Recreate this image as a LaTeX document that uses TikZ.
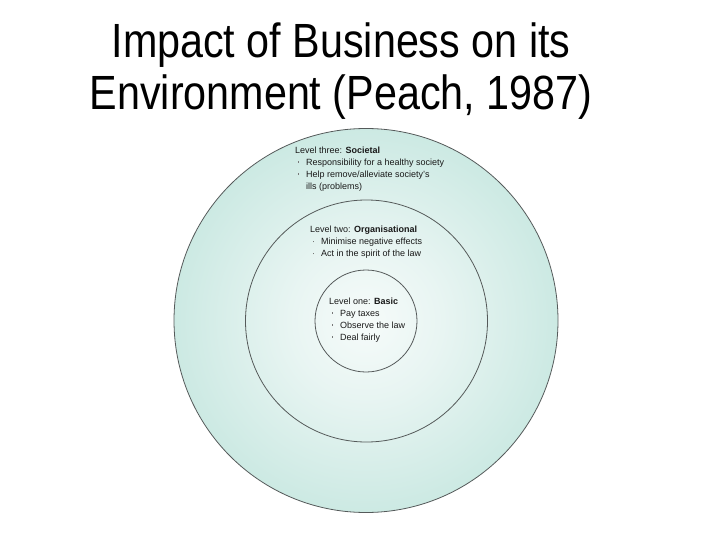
\documentclass[tikz,border=0pt]{standalone}
\usepackage{fontspec}
\setmainfont{Liberation Sans}
\usepackage{xcolor}
\usepackage{tikz}
\usetikzlibrary{positioning}
\definecolor{ringline}{RGB}{85,90,90}
\definecolor{dotgray}{RGB}{120,120,120}
\definecolor{inkdark}{RGB}{25,25,25}
\pgfdeclareradialshading{levels}{\pgfpoint{0bp}{0bp}}{%
  rgb(0bp)=(0.965,0.985,0.98);
  rgb(10bp)=(0.91,0.96,0.95);
  rgb(25bp)=(0.80,0.915,0.89);
  rgb(40bp)=(0.72,0.875,0.845);
  rgb(50bp)=(0.68,0.85,0.82)}
\newcommand{\itemdot}{\hspace*{2.5pt}\makebox[8.5pt][l]{\raisebox{2.4pt}{\color{dotgray}\rule{1.6pt}{1.6pt}}}}

\begin{document}
\begin{tikzpicture}[
  x=1pt, y=-1pt,
  ring/.style={circle, draw=ringline, line width=0.8pt, inner sep=0pt},
  level/.style={anchor=north west, inner sep=0pt, align=left, text=inkdark,
    font=\fontsize{9}{12}\selectfont},
  heading/.style={align=center, inner sep=0pt,
    font=\fontsize{48}{52}\selectfont, xscale=0.86}
]
\useasboundingbox (0,0) rectangle (720,540);

\node[heading] (title) at (341,71) {Impact of Business on its\\Environment (Peach, 1987)};

\node[ring, shading=levels, minimum size=384pt] (societal) at (366,320.5) {};
\node[ring, minimum size=242pt] (organisational) at (366.5,321) {};
\node[ring, minimum size=102pt] (basic) at (366,321) {};

\node[level] (three) at (295,146.5) {Level three: \textbf{Societal}\\
  \itemdot Responsibility for a healthy society\\
  \itemdot Help remove/alleviate society's\\
  \hspace*{11pt}ills (problems)};
\node[level] (two) at (310,226) {Level two: \textbf{Organisational}\\
  \itemdot Minimise negative effects\\
  \itemdot Act in the spirit of the law};
\node[level] (one) at (329,297.5) {Level one: \textbf{Basic}\\
  \itemdot Pay taxes\\
  \itemdot Observe the law\\
  \itemdot Deal fairly};
\end{tikzpicture}
\end{document}
